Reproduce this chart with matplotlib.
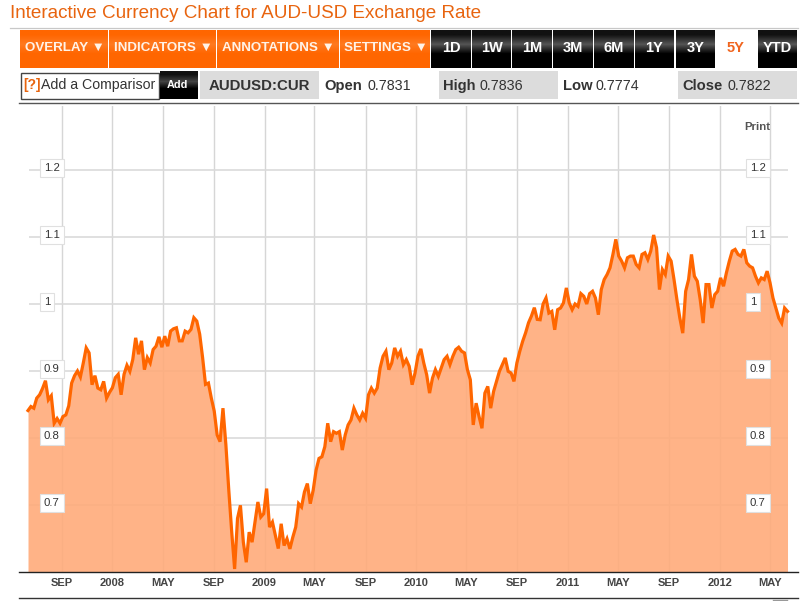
import numpy as np
import pandas as pd
import matplotlib
matplotlib.use("Agg")
import matplotlib.pyplot as plt
import matplotlib.dates as mdates
from matplotlib.patches import Rectangle

title = "Interactive Currency Chart for AUD-USD Exchange Rate"
start_date = "2007-06-12"
rate = [
 .841,.847,.8445,.8595,.8645,.874,.8855,.857,.863,.822,.829,.822,.832,.8345,.848,.882,.893,.9,.891,.912,
 .9345,.927,.8795,.893,.8745,.872,.8845,.8595,.868,.875,.89,.895,.8645,.895,.9085,.8995,.917,.9495,.925,.945,
 .902,.92,.912,.932,.937,.951,.9355,.952,.937,.9595,.963,.9645,.945,.945,.9595,.957,.962,.9795,.9745,.955,
 .92,.88,.882,.8595,.84,.8045,.7945,.8445,.79,.722,.66,.6045,.68,.6995,.6445,.6145,.6595,.6445,.675,.7045,
 .682,.687,.7245,.667,.6745,.655,.635,.672,.6395,.6495,.6345,.652,.667,.702,.697,.7195,.732,.702,.722,.752,
 .7695,.772,.787,.822,.7945,.8095,.807,.8095,.782,.8045,.8195,.827,.8445,.8345,.827,.837,.8295,.8645,.8745,.867,
 .8745,.9045,.922,.9295,.902,.912,.9345,.922,.9295,.9095,.917,.907,.8795,.897,.922,.933,.912,.8945,.867,.8895,
 .902,.892,.9045,.917,.922,.9095,.922,.932,.9355,.9295,.927,.902,.887,.8195,.852,.832,.8145,.867,.877,.8445,
 .8695,.8845,.8995,.9095,.9195,.8995,.897,.8845,.912,.9295,.9445,.957,.972,.982,.9945,.977,
 .9765,1.0,1.009,.9865,.989,.9615,.9915,.994,1.0015,1.024,1.0015,.9915,1.0,.9965,1.0155,1.0115,1.0,1.0155,1.019,1.009,
 .984,1.0215,1.0365,1.044,1.054,1.074,1.0965,1.0715,1.064,1.054,1.069,1.0715,1.0715,1.059,1.054,1.074,1.0765,1.0665,1.079,1.103,
 1.084,1.0215,1.0515,1.044,1.0715,1.064,1.0365,1.0065,.979,.9565,1.019,1.0365,1.074,1.0415,1.034,1.0065,.9715,1.029,1.029,.994,
 1.014,1.019,1.039,1.0265,1.0465,1.064,1.079,1.0815,1.074,1.0715,1.0815,1.0615,1.0565,1.054,1.0415,1.0315,1.039,1.0365,1.049,1.0315,
 1.009,.994,.979,.9715,.994,.989,
]
x_tick_dates = ["2007-09-01","2008-01-01","2008-05-01","2008-09-01","2009-01-01","2009-05-01","2009-09-01",
                "2010-01-01","2010-05-01","2010-09-01","2011-01-01","2011-05-01","2011-09-01","2012-01-01","2012-05-01"]
x_tick_labels = ["SEP","2008","MAY","SEP","2009","MAY","SEP","2010","MAY","SEP","2011","MAY","SEP","2012","MAY"]
y_ticks = [0.7, 0.8, 0.9, 1.0, 1.1, 1.2]
y_tick_labels = ["0.7", "0.8", "0.9", "1", "1.1", "1.2"]
orange_buttons = ["OVERLAY ▼", "INDICATORS ▼", "ANNOTATIONS ▼", "SETTINGS ▼"]
black_buttons = ["1D", "1W", "1M", "3M", "6M", "1Y", "3Y"]
quotes = [("Open", "0.7831"), ("High", "0.7836"), ("Low", "0.7774"), ("Close", "0.7822")]

plt.rcParams["font.family"] = ["Liberation Sans", "DejaVu Sans"]
W, H = 811, 601
ORANGE = "#FF6600"
fig = plt.figure(figsize=(W/100, H/100), dpi=100, facecolor="white")

# page chrome, laid out in pixels
bg = fig.add_axes([0, 0, 1, 1]); bg.set_xlim(0, W); bg.set_ylim(H, 0); bg.axis("off")

def button(x0, x1, y0, y1, top, mid, low):
    grad = np.array([[matplotlib.colors.to_rgb(top)], [matplotlib.colors.to_rgb(mid)],
                     [matplotlib.colors.to_rgb(low)], [matplotlib.colors.to_rgb(low)]])
    bg.imshow(grad, extent=(x0, x1, y1, y0), aspect="auto", interpolation="bilinear", zorder=1)

bg.plot([10, 798], [27.5, 27.5], color="#C8C8C8", lw=0.9)
bg.plot([19, 798], [102.5, 102.5], color="#555555", lw=1.0)
bg.plot([19, 798], [597.5, 597.5], color="#333333", lw=1.0)
bg.plot([773, 787], [600, 600], color="#999999", lw=1.0)
bg.text(10, 14, title, color="#E8640F", fontsize=13.6, va="center", ha="left")

for lab, (a, b) in zip(orange_buttons, [(20,108),(109,216),(217,339),(340,430)]):
    button(a, b, 30, 68, "#FF6600", "#FF7A20", "#FF6600")
    bg.text((a+b)/2 + 0.5, 48, lab, color="#FFF3E8", fontsize=9.6, fontweight="bold", ha="center", va="center", zorder=3)
for lab, (a, b) in zip(black_buttons, [(431,471),(472,511),(512,552),(553,593),(594,634),(635,674),(676,715)]):
    button(a, b, 30, 68, "#111111", "#555555", "#000000")
    bg.text((a+b)/2, 48, lab, color="white", fontsize=10.5, fontweight="bold", ha="center", va="center", zorder=3)
bg.text(736, 48, "5Y", color="#F0641E", fontsize=10.5, fontweight="bold", ha="center", va="center", zorder=3)
button(758, 797, 30, 68, "#111111", "#555555", "#000000")
bg.text(777.5, 48, "YTD", color="white", fontsize=10.5, fontweight="bold", ha="center", va="center", zorder=3)

bg.add_patch(Rectangle((20.5, 72.5), 138, 26, fc="white", ec="#444444", lw=1.0))
bg.text(23, 85.5, "[?]", color="#E8640F", fontsize=10, fontweight="bold", va="center")
bg.text(41, 85.5, "Add a Comparisor", color="#333333", fontsize=10.2, va="center")
button(160, 198, 71, 99, "#111111", "#444444", "#000000")
bg.text(177.5, 85, "Add", color="white", fontsize=7.8, fontweight="bold", ha="center", va="center", zorder=3)
bg.add_patch(Rectangle((200, 71), 119, 28, fc="#DCDCDC", ec="none"))
bg.text(209, 86, "AUDUSD:CUR", color="#333333", fontsize=10.8, fontweight="bold", va="center")
for (a, b) in [(439, 558), (678, 797)]:
    bg.add_patch(Rectangle((a, 71), b-a, 28, fc="#DCDCDC", ec="none"))
for (name, val), xa, xb in zip(quotes, [324, 443, 563, 682], [367, 480, 596, 727]):
    bg.text(xa, 86, name, color="#333333", fontsize=10.6, fontweight="bold", va="center")
    bg.text(xb, 86, val, color="#333333", fontsize=10.3, va="center")
bg.set_xlim(0, W); bg.set_ylim(H, 0)

# chart
dates = pd.date_range(start_date, periods=len(rate), freq="7D")
ax = fig.add_axes([19/W, 1-572/H, (798-19)/W, (572-106)/H], facecolor="none")
px_day = 7/2.91
d0 = mdates.date2num(dates[0])
ax.set_xlim(d0 - 9*px_day, d0 + 770*px_day)
ax.set_ylim(0.6, 0.6 + 466/670)

tick_x = mdates.date2num(pd.to_datetime(x_tick_dates))
ax.set_xticks(tick_x, x_tick_labels)
ax.set_yticks([])
for t in tick_x:
    ax.axvline(t, color="#D6D6D6", lw=1.0, zorder=1)
ax.hlines(y_ticks, d0 + 1*px_day, d0 + 760*px_day, color="#DADADA", lw=1.2, zorder=1)
ax.fill_between(dates, 0.6, rate, color="#FFAB7A", alpha=0.9, lw=0, zorder=2)
ax.plot(dates, rate, color=ORANGE, lw=2.3, solid_joinstyle="miter", zorder=3)

for s in ["top", "left", "right"]:
    ax.spines[s].set_visible(False)
ax.spines["bottom"].set_color("#222222")
ax.spines["bottom"].set_linewidth(1.0)
ax.tick_params(axis="x", length=0, pad=4, labelsize=8, labelcolor="#444444")
for lab in ax.get_xticklabels():
    lab.set_fontweight("bold")

trans = ax.get_yaxis_transform()
for v, lab in zip(y_ticks, y_tick_labels):
    for xf in [(44-19)/779, (750-19)/779]:
        ax.annotate(lab, xy=(xf, v), xycoords=trans, xytext=(0, 1.7), textcoords="offset points",
                    fontsize=8.2, color="#333333", ha="left", va="center", zorder=6,
                    bbox=dict(boxstyle="square,pad=0.35", fc="white", ec="#E0E0E0", lw=0.8))
ax.text((744-19)/779, 1 - 21/466, "Print", transform=ax.transAxes, fontsize=8.2, fontweight="bold",
        color="#555555", ha="left", va="center")

fig.savefig("out.png", dpi=100)
